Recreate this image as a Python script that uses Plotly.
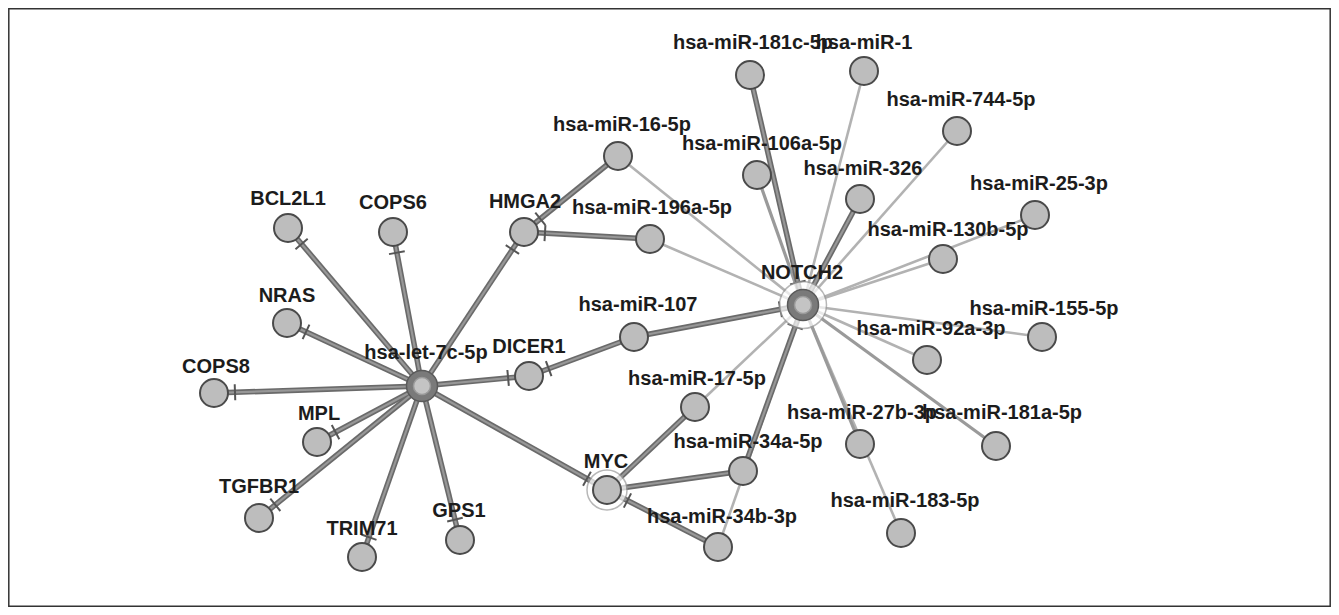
import numpy as np
import plotly.graph_objects as go

# ---- network data: node names and layout coordinates (pixel-like units) ----
nodes = ["hsa-let-7c-5p", "BCL2L1", "COPS6", "HMGA2", "NRAS", "COPS8", "MPL", "TGFBR1",
         "TRIM71", "GPS1", "DICER1", "MYC", "hsa-miR-16-5p", "hsa-miR-196a-5p",
         "hsa-miR-107", "hsa-miR-17-5p", "hsa-miR-34a-5p", "hsa-miR-34b-3p", "NOTCH2",
         "hsa-miR-181c-5p", "hsa-miR-1", "hsa-miR-744-5p", "hsa-miR-106a-5p", "hsa-miR-326",
         "hsa-miR-25-3p", "hsa-miR-130b-5p", "hsa-miR-155-5p", "hsa-miR-92a-3p",
         "hsa-miR-181a-5p", "hsa-miR-27b-3p", "hsa-miR-183-5p"]
node_x = [422, 288, 393, 524, 287, 214, 317, 259, 362, 460, 529, 607, 618, 650,
          634, 695, 743, 718, 803, 750, 864, 957, 757, 860, 1035, 943, 1042, 927,
          996, 860, 901]
node_y = [386, 228, 232, 232, 323, 393, 442, 518, 557, 540, 376, 490, 156, 239,
          337, 407, 471, 547, 305, 75, 71, 131, 175, 199, 215, 259, 337, 360,
          446, 444, 533]
label_dx = [4, 0, 0, 1, 0, 2, 2, 0, 0, -1, 0, -1, 4, 2,
            4, 2, 5, 4, -1, 3, 0, 4, 5, 3, 4, 5, 2, 4,
            6, 2, 4]
label_dy = [-32, -28, -28, -29, -26, -25, -27, -30, -27, -28, -28, -27, -30, -30,
            -31, -27, -28, -29, -31, -31, -27, -30, -30, -29, -30, -28, -27, -30,
            -32, -30, -31]

# edges: source, target, style, inhibition bar at target
edges = [
    ("hsa-let-7c-5p", "BCL2L1", "dark", True),
    ("hsa-let-7c-5p", "COPS6", "dark", True),
    ("hsa-let-7c-5p", "HMGA2", "dark", True),
    ("hsa-let-7c-5p", "NRAS", "dark", True),
    ("hsa-let-7c-5p", "COPS8", "dark", True),
    ("hsa-let-7c-5p", "MPL", "dark", True),
    ("hsa-let-7c-5p", "TGFBR1", "dark", True),
    ("hsa-let-7c-5p", "TRIM71", "dark", True),
    ("hsa-let-7c-5p", "GPS1", "dark", True),
    ("hsa-let-7c-5p", "DICER1", "dark", True),
    ("hsa-let-7c-5p", "MYC", "dark", True),
    ("hsa-miR-16-5p", "HMGA2", "dark", True),
    ("hsa-miR-196a-5p", "HMGA2", "dark", True),
    ("hsa-miR-107", "DICER1", "dark", True),
    ("hsa-miR-107", "NOTCH2", "dark", True),
    ("hsa-miR-16-5p", "NOTCH2", "light", False),
    ("hsa-miR-196a-5p", "NOTCH2", "light", False),
    ("hsa-miR-181c-5p", "NOTCH2", "dark", True),
    ("hsa-miR-1", "NOTCH2", "light", False),
    ("hsa-miR-744-5p", "NOTCH2", "light", False),
    ("hsa-miR-106a-5p", "NOTCH2", "mid", False),
    ("hsa-miR-326", "NOTCH2", "dark", False),
    ("hsa-miR-25-3p", "NOTCH2", "light", False),
    ("hsa-miR-130b-5p", "NOTCH2", "light", False),
    ("hsa-miR-155-5p", "NOTCH2", "light", False),
    ("hsa-miR-92a-3p", "NOTCH2", "light", False),
    ("hsa-miR-181a-5p", "NOTCH2", "mid", False),
    ("hsa-miR-27b-3p", "NOTCH2", "mid", False),
    ("hsa-miR-183-5p", "NOTCH2", "light", False),
    ("hsa-miR-34a-5p", "NOTCH2", "dark", True),
    ("hsa-miR-34b-3p", "NOTCH2", "light", False),
    ("hsa-miR-17-5p", "NOTCH2", "light", False),
    ("hsa-miR-17-5p", "MYC", "dark", False),
    ("hsa-miR-34a-5p", "MYC", "dark", False),
    ("hsa-miR-34b-3p", "MYC", "dark", True),
]

hubs = ["hsa-let-7c-5p", "NOTCH2"]
haloed = ["NOTCH2", "MYC"]

pos = {n: (x, y) for n, x, y in zip(nodes, node_x, node_y)}
fig = go.Figure()

styles = {
    "dark": [(5.5, "#6a6a6a"), (2.2, "#979797")],
    "mid": [(3.2, "#9a9a9a")],
    "light": [(2.6, "#b2b2b2")],
}
for key in ["light", "mid", "dark"]:
    for w, c in styles[key]:
        xs, ys = [], []
        for s, t, st, _ in edges:
            if st != key:
                continue
            xs += [pos[s][0], pos[t][0], None]
            ys += [pos[s][1], pos[t][1], None]
        fig.add_trace(go.Scatter(x=xs, y=ys, mode="lines", line=dict(color=c, width=w),
                                 hoverinfo="skip", showlegend=False))

# inhibition bars
bx, by = [], []
for s, t, st, inh in edges:
    if not inh:
        continue
    sx, sy = pos[s]
    tx, ty = pos[t]
    d = np.array([sx - tx, sy - ty], float)
    d /= np.hypot(*d)
    r = 23 if t in haloed else 21
    cx, cy = tx + d[0] * r, ty + d[1] * r
    p = np.array([-d[1], d[0]]) * 8
    bx += [cx - p[0], cx + p[0], None]
    by += [cy - p[1], cy + p[1], None]
fig.add_trace(go.Scatter(x=bx, y=by, mode="lines", line=dict(color="#555555", width=2),
                         hoverinfo="skip", showlegend=False))

# halos
hx = [pos[n][0] for n in haloed]
hy = [pos[n][1] for n in haloed]
fig.add_trace(go.Scatter(x=hx, y=hy, mode="markers",
                         marker=dict(size=[47, 40], color="white",
                                     line=dict(color="#9a9a9a", width=1.5)),
                         hoverinfo="skip", showlegend=False))

# regular nodes
rx = [x for n, x in zip(nodes, node_x) if n not in hubs]
ry = [y for n, y in zip(nodes, node_y) if n not in hubs]
fig.add_trace(go.Scatter(x=rx, y=ry, mode="markers",
                         marker=dict(size=28, color="#bdbdbd",
                                     line=dict(color="#4a4a4a", width=2)),
                         hoverinfo="skip", showlegend=False))

# hub nodes (double ring)
ux = [pos[n][0] for n in hubs]
uy = [pos[n][1] for n in hubs]
fig.add_trace(go.Scatter(x=ux, y=uy, mode="markers",
                         marker=dict(size=31, color="#7a7a7a",
                                     line=dict(color="#5a5a5a", width=1.5)),
                         hoverinfo="skip", showlegend=False))
fig.add_trace(go.Scatter(x=ux, y=uy, mode="markers",
                         marker=dict(size=17, color="#c4c4c4",
                                     line=dict(color="#9a9a9a", width=1.5)),
                         hoverinfo="skip", showlegend=False))

# labels
lx = [x + dx for x, dx in zip(node_x, label_dx)]
ly = [y + dy for y, dy in zip(node_y, label_dy)]
fig.add_trace(go.Scatter(x=lx, y=ly, mode="text", text=nodes,
                         textfont=dict(family="Liberation Sans, Arial, sans-serif",
                                       size=20, color="#1c1c1c", weight="bold"),
                         hoverinfo="skip", showlegend=False))

# page has an 8px body margin: size figure so data units equal window pixels
fig.update_layout(
    width=1323, height=599,
    margin=dict(l=0, r=0, t=0, b=0),
    paper_bgcolor="white", plot_bgcolor="white",
    xaxis=dict(range=[8, 1331], visible=False, fixedrange=True),
    yaxis=dict(range=[607, 8], visible=False, fixedrange=True),
    shapes=[dict(type="rect", xref="x", yref="y",
                 x0=8.8, x1=1330.2, y0=606.2, y1=8.8,
                 line=dict(color="#333333", width=1.5))],
)
fig.write_html("out.html")
